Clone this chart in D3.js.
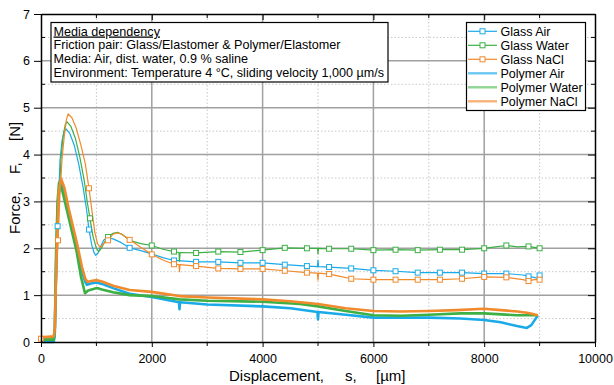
<!DOCTYPE html>
<html>
<head>
<meta charset="utf-8">
<script src="https://cdn.jsdelivr.net/npm/d3@7"></script>
<style>
  body { margin: 0; background: #fff; }
  svg { font-family: "Liberation Sans", Arial, sans-serif; display: block; }
</style>
</head>
<body>
<div id="chart"></div>
<script>
// displacement [µm], force [N]
const glassAir = [[0,0.02],[100,0.02],[200,0.03],[250,0.08],[270,1.2],[300,2.47],[343,3.87],[380,4.3],[420,4.5],[450,4.55],[520,4.45],[600,4.2],[680,3.8],[760,3.3],[820,2.85],[866,2.4],[920,2.05],[960,1.9],[990,1.85],[1030,1.9],[1080,2.05],[1130,2.17],[1190,2.23],[1300,2.2],[1450,2.12],[1600,2.01],[1800,1.95],[2000,1.88],[2200,1.8],[2400,1.74],[2800,1.71],[3200,1.71],[3600,1.69],[4000,1.69],[4400,1.65],[4800,1.62],[4990,1.61],[5000,1.75],[5010,1.61],[5200,1.6],[5600,1.57],[6000,1.53],[6400,1.51],[6800,1.48],[7200,1.48],[7600,1.48],[8000,1.46],[8400,1.46],[8700,1.43],[8800,1.4],[8900,1.38],[8960,1.36],[9000,1.42]];
const glassWater = [[0,0.1],[100,0.1],[200,0.1],[255,0.12],[285,1.5],[320,2.9],[360,3.9],[400,4.4],[440,4.65],[470,4.7],[540,4.6],[620,4.35],[700,3.95],[780,3.45],[840,2.95],[884,2.64],[940,2.25],[1000,2.0],[1040,1.93],[1090,2.0],[1150,2.14],[1210,2.24],[1300,2.32],[1380,2.34],[1460,2.3],[1600,2.17],[1800,2.1],[2000,2.06],[2200,1.98],[2400,1.93],[2490,1.91],[2500,1.72],[2510,1.91],[2800,1.9],[3200,1.93],[3600,1.92],[4000,1.96],[4400,2.01],[4800,2.0],[4990,2.0],[5000,1.88],[5010,2.0],[5200,1.99],[5600,1.99],[6000,1.96],[6400,1.97],[6800,1.96],[7200,1.97],[7600,1.97],[8000,2.0],[8200,2.03],[8400,2.06],[8600,2.03],[8800,2.04],[9000,2.0]];
const glassNaCl = [[0,0.07],[100,0.07],[200,0.08],[240,0.1],[270,1.0],[307,2.17],[340,3.1],[380,3.9],[420,4.4],[460,4.75],[490,4.87],[560,4.78],[640,4.55],[720,4.2],[800,3.8],[866,3.28],[920,2.8],[970,2.35],[1020,2.1],[1070,2.02],[1130,2.1],[1210,2.17],[1300,2.3],[1380,2.33],[1460,2.3],[1600,2.18],[1800,2.02],[2000,1.87],[2200,1.75],[2400,1.66],[2490,1.65],[2500,1.5],[2510,1.65],[2800,1.62],[3200,1.57],[3600,1.56],[4000,1.56],[4400,1.52],[4800,1.48],[4990,1.47],[5000,1.32],[5010,1.47],[5200,1.45],[5400,1.4],[5600,1.35],[6000,1.33],[6400,1.33],[6800,1.33],[7200,1.33],[7600,1.35],[8000,1.39],[8400,1.38],[8700,1.33],[8800,1.3],[8900,1.33],[9000,1.33]];

const polymerAir = [[0,0.0],[230,0.0],[250,0.2],[270,1.5],[300,2.9],[343,3.45],[400,3.3],[493,2.8],[560,2.4],[644,2.03],[734,1.53],[800,1.28],[830,1.22],[900,1.25],[1000,1.27],[1100,1.24],[1300,1.15],[1600,1.03],[2000,0.96],[2490,0.85],[2500,0.7],[2510,0.85],[3000,0.8],[4000,0.76],[4500,0.72],[4990,0.64],[5000,0.48],[5010,0.64],[5500,0.58],[6000,0.52],[7000,0.52],[7570,0.5],[8000,0.47],[8300,0.42],[8590,0.34],[8770,0.3],[8850,0.36],[8970,0.57]];
const polymerWater = [[0,0.05],[230,0.05],[250,0.3],[270,1.8],[300,3.0],[325,3.4],[380,3.25],[480,2.75],[640,1.95],[720,1.4],[794,1.04],[850,1.1],[1010,1.15],[1100,1.12],[1300,1.06],[1600,1.0],[2000,0.98],[2500,0.91],[3000,0.88],[4000,0.86],[4675,0.81],[5000,0.76],[5500,0.66],[6000,0.57],[6500,0.56],[7000,0.58],[7570,0.61],[8000,0.61],[8590,0.57],[8970,0.57]];
const polymerNaCl = [[0,0.1],[230,0.12],[250,0.3],[280,1.8],[320,3.2],[360,3.49],[420,3.3],[500,2.85],[650,2.1],[740,1.6],[800,1.35],[840,1.28],[900,1.3],[1010,1.32],[1100,1.29],[1300,1.2],[1600,1.11],[2000,1.07],[2500,0.98],[3000,0.95],[4000,0.91],[4500,0.87],[5000,0.81],[5500,0.72],[6000,0.66],[6500,0.65],[7000,0.66],[7500,0.68],[8000,0.71],[8300,0.68],[8600,0.65],[8800,0.62],[8970,0.57]];

// square markers on the glass curves
const glassAirMarks = [[300,2.47],[866,2.4],[1600,2.01],[2400,1.74],[2800,1.71],[3200,1.71],[3600,1.69],[4000,1.69],[4400,1.65],[4800,1.62],[5200,1.6],[5600,1.57],[6000,1.53],[6400,1.51],[6800,1.48],[7200,1.48],[7600,1.48],[8000,1.46],[8400,1.46],[8800,1.4],[9000,1.42]];
const glassWaterMarks = [[884,2.64],[1210,2.24],[2000,2.06],[2400,1.93],[2800,1.9],[3200,1.93],[3600,1.92],[4000,1.96],[4400,2.01],[4800,2.0],[5200,1.99],[5600,1.99],[6000,1.96],[6400,1.97],[6800,1.96],[7200,1.97],[7600,1.97],[8000,2.0],[8400,2.06],[8800,2.04],[9000,2.0]];
const glassNaClMarks = [[0,0.07],[307,2.17],[866,3.28],[1210,2.17],[1600,2.18],[2000,1.87],[2400,1.66],[2800,1.62],[3200,1.57],[3600,1.56],[4000,1.56],[4400,1.52],[4800,1.48],[5200,1.45],[5600,1.35],[6000,1.33],[6400,1.33],[6800,1.33],[7200,1.33],[7600,1.35],[8000,1.39],[8400,1.38],[8800,1.3],[9000,1.33]];

const seriesNames = ['Glass Air', 'Glass Water', 'Glass NaCl', 'Polymer Air', 'Polymer Water', 'Polymer NaCl'];
const xTicks = [0, 2000, 4000, 6000, 8000, 10000];
const yTicks = [0, 1, 2, 3, 4, 5, 6, 7];
const infoLines = [
  'Media dependency',
  'Friction pair: Glass/Elastomer & Polymer/Elastomer',
  'Media: Air, dist. water, 0.9 % saline',
  'Environment: Temperature 4 °C, sliding velocity 1,000 µm/s'
];

const blue = '#1aaae8', green = '#3cb044', orange = '#f08a2c';

const series = [
  { name: seriesNames[0], data: glassAir, marks: glassAirMarks, color: blue, width: 1.2 },
  { name: seriesNames[1], data: glassWater, marks: glassWaterMarks, color: green, width: 1.2 },
  { name: seriesNames[2], data: glassNaCl, marks: glassNaClMarks, color: orange, width: 1.2 },
  { name: seriesNames[3], data: polymerAir, color: blue, legendColor: '#6cc8f2', width: 2.6 },
  { name: seriesNames[4], data: polymerWater, color: green, legendColor: '#8fd492', width: 2.6 },
  { name: seriesNames[5], data: polymerNaCl, color: orange, legendColor: '#f6b27a', width: 2.6 }
];

const W = 614, H = 385;
const margin = { top: 14, right: 19, bottom: 43, left: 41 };

const svg = d3.select('#chart').append('svg')
  .attr('width', W)
  .attr('height', H);

const x = d3.scaleLinear().domain([0, 10000]).range([margin.left, W - margin.right]);
const y = d3.scaleLinear().domain([0, 7]).range([H - margin.bottom, margin.top]);

// Grid
const minorX = d3.range(1000, 10000, 2000);
const minorY = d3.range(0.5, 7, 1);
svg.append('g').selectAll('line').data(minorX).enter().append('line')
  .attr('x1', d => x(d)).attr('x2', d => x(d))
  .attr('y1', y(0)).attr('y2', y(7))
  .attr('stroke', '#c8c8c8').attr('stroke-dasharray', '1.5,2');
svg.append('g').selectAll('line').data(minorY).enter().append('line')
  .attr('y1', d => y(d)).attr('y2', d => y(d))
  .attr('x1', x(0)).attr('x2', x(10000))
  .attr('stroke', '#c8c8c8').attr('stroke-dasharray', '1.5,2');
svg.append('g').selectAll('line').data(xTicks.slice(1, -1)).enter().append('line')
  .attr('x1', d => x(d)).attr('x2', d => x(d))
  .attr('y1', y(0)).attr('y2', y(7))
  .attr('stroke', '#a0a0a0').attr('stroke-width', 1.5);
svg.append('g').selectAll('line').data(yTicks.slice(1, -1)).enter().append('line')
  .attr('y1', d => y(d)).attr('y2', d => y(d))
  .attr('x1', x(0)).attr('x2', x(10000))
  .attr('stroke', '#a0a0a0').attr('stroke-width', 1.5);

// Lines
const line = d3.line().x(d => x(d[0])).y(d => y(d[1]));
series.forEach(s => {
  svg.append('path')
    .datum(s.data)
    .attr('fill', 'none')
    .attr('stroke', s.color)
    .attr('stroke-width', s.width)
    .attr('stroke-linejoin', 'round')
    .attr('d', line);
});
series.filter(s => s.marks).forEach(s => {
  svg.append('g').selectAll('rect').data(s.marks).enter().append('rect')
    .attr('x', d => x(d[0]) - 2.5)
    .attr('y', d => y(d[1]) - 2.5)
    .attr('width', 5).attr('height', 5)
    .attr('fill', '#fff')
    .attr('stroke', s.color)
    .attr('stroke-width', 1);
});

// Axes
const axisStyle = g => {
  g.select('.domain').attr('stroke', '#000').attr('stroke-width', 1.5);
  g.selectAll('.tick line').attr('stroke', '#000');
  g.selectAll('.tick text').attr('font-size', 12.5).attr('fill', '#000')
    .attr('font-family', '"Liberation Sans", Arial, sans-serif');
};
svg.append('g')
  .attr('transform', `translate(0,${y(0)})`)
  .call(d3.axisBottom(x).tickValues(xTicks).tickFormat(d3.format('d'))
    .tickSize(5).tickSizeOuter(0).tickPadding(7))
  .call(axisStyle);
svg.append('g')
  .attr('transform', `translate(${x(0)},0)`)
  .call(d3.axisLeft(y).tickValues(yTicks).tickFormat(d3.format('d'))
    .tickSize(7).tickSizeOuter(0).tickPadding(4))
  .call(axisStyle);
svg.append('g')
  .attr('transform', `translate(0,${y(7)})`)
  .call(d3.axisBottom(x).tickValues(xTicks).tickSize(6).tickSizeOuter(0).tickFormat(''))
  .call(axisStyle);
svg.append('g')
  .attr('transform', `translate(${x(10000)},0)`)
  .call(d3.axisLeft(y).tickValues(yTicks).tickSize(7).tickSizeOuter(0).tickFormat(''))
  .call(axisStyle);

// minor ticks
svg.append('g').selectAll('line').data(minorX).enter().append('line')
  .attr('x1', d => x(d)).attr('x2', d => x(d))
  .attr('y1', y(0)).attr('y2', y(0) + 4).attr('stroke', '#000');
svg.append('g').selectAll('line').data(minorX).enter().append('line')
  .attr('x1', d => x(d)).attr('x2', d => x(d))
  .attr('y1', y(7)).attr('y2', y(7) + 4).attr('stroke', '#000');
svg.append('g').selectAll('line').data(minorY).enter().append('line')
  .attr('y1', d => y(d)).attr('y2', d => y(d))
  .attr('x1', x(0)).attr('x2', x(0) + 4).attr('stroke', '#000');
svg.append('g').selectAll('line').data(minorY).enter().append('line')
  .attr('y1', d => y(d)).attr('y2', d => y(d))
  .attr('x1', x(10000)).attr('x2', x(10000) - 4).attr('stroke', '#000');

// Axis titles
const xt = svg.append('text').attr('y', 381).attr('font-size', 15).attr('fill', '#000');
xt.append('tspan').attr('x', 229).text('Displacement,');
xt.append('tspan').attr('x', 345).text('s,');
xt.append('tspan').attr('x', 376).text('[µm]');

const yt = svg.append('text').attr('transform', 'translate(20,0) rotate(-90)')
  .attr('font-size', 15).attr('fill', '#000');
yt.append('tspan').attr('x', -234).text('Force,');
yt.append('tspan').attr('x', -174).text('F,');
yt.append('tspan').attr('x', -141).text('[N]');

// Info box
svg.append('rect')
  .attr('x', 51).attr('y', 22.5).attr('width', 337).attr('height', 59.5)
  .attr('fill', '#fff').attr('stroke', '#000').attr('stroke-width', 1.2);
svg.append('g').selectAll('text').data(infoLines).enter().append('text')
  .attr('x', 53.5)
  .attr('y', (d, i) => 35.5 + i * 13.8)
  .attr('font-size', 12.6)
  .attr('fill', '#000')
  .attr('text-decoration', (d, i) => i === 0 ? 'underline' : null)
  .text(d => d);

// Legend
const legend = svg.append('g');
legend.append('rect')
  .attr('x', 466.5).attr('y', 22.5).attr('width', 119).attr('height', 88)
  .attr('fill', '#fff').attr('stroke', '#000').attr('stroke-width', 1.2);
series.forEach((s, i) => {
  const ly = 31.3 + i * 14;
  legend.append('line')
    .attr('x1', 468).attr('x2', 497).attr('y1', ly).attr('y2', ly)
    .attr('stroke', s.legendColor || s.color)
    .attr('stroke-width', s.marks ? 1.2 : 2.4);
  if (s.marks) {
    legend.append('rect')
      .attr('x', 480).attr('y', ly - 2.5).attr('width', 5).attr('height', 5)
      .attr('fill', '#fff').attr('stroke', s.color);
  }
  legend.append('text')
    .attr('x', 500.5).attr('y', ly + 4.5)
    .attr('font-size', 12.5).attr('fill', '#000')
    .text(s.name);
});
</script>
</body>
</html>
